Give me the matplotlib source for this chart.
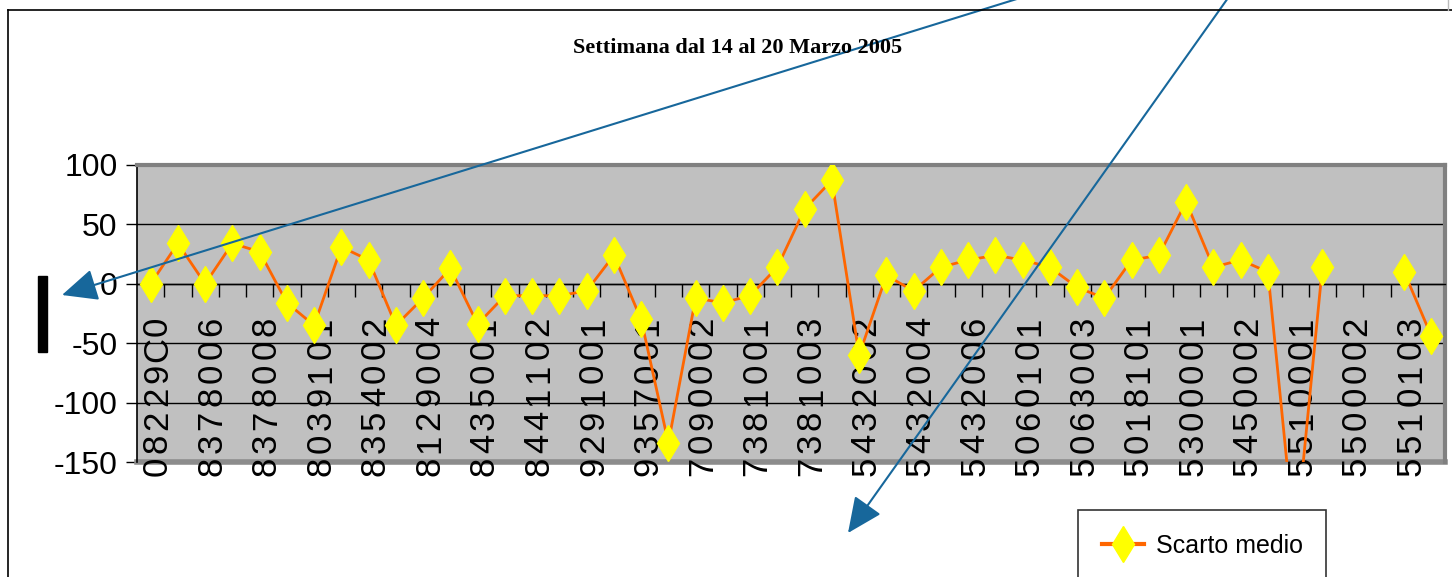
import numpy as np
import matplotlib
matplotlib.use("Agg")
import matplotlib.pyplot as plt
from matplotlib import font_manager
from matplotlib.lines import Line2D
from matplotlib.patches import Rectangle


def pick_font(*names):
    for n in names:
        try:
            font_manager.findfont(n, fallback_to_default=False)
            return n
        except ValueError:
            pass
    return "DejaVu Sans"


narrow = pick_font("Liberation Sans Narrow", "Liberation Sans", "DejaVu Sans")

# data
codes = ["08229C0", "8378006", "8378008", "8039101", "8354002", "8129004",
         "8435001", "8441102", "9291001", "9357001", "7090002", "7381001",
         "7381003", "5432002", "5432004", "5432006", "5060101", "5063003",
         "5018101", "5300001", "5450002", "5510001", "5500002", "5510103"]
scarto = [0, 34, 0, 34, 27, -16, -35, 31, 20, -35,
          -12, 13, -34, -10, -10, -10, -6, 24, -30, -134,
          -12, -16, -10, 14, 63, 87, -60, 7, -6, 14,
          20, 24, 20, 14, -3, -12, 20, 24, 69, 14,
          20, 10, -220, 14, np.nan, np.nan, 10, -44]
yticks = [100, 50, 0, -50, -100, -150]
title = "Settimana dal 14 al 20 Marzo 2005"
serie = "Scarto medio"

W, H = 1452, 577
fig = plt.figure(figsize=(W / 100, H / 100), dpi=100)
ax = fig.add_axes([137 / W, 1 - 462 / H, (1445 - 137) / W, (462 - 165) / H])
ax.set_facecolor("#C0C0C0")

x = np.arange(len(scarto))
ax.plot(x, scarto, color="#FF6600", lw=2, zorder=3,
        marker="d", markersize=18, markerfacecolor="#FFFF00",
        markeredgecolor="#FFFF00")

ax.set_xlim(-0.5, len(scarto) - 0.5)
ax.set_ylim(-150, 100)

# y axis
ax.set_yticks(yticks)
ax.set_yticklabels([str(v) for v in yticks], family=narrow, fontsize=23)
ax.tick_params(axis="y", direction="out", length=8, width=1, pad=6)
ax.yaxis.grid(True, color="black", lw=1)
ax.set_axisbelow(True)

# category axis crosses at 0, ticks between categories
ax.spines["bottom"].set_position(("data", 0))
ax.spines["bottom"].set_linewidth(1)
ax.set_xticks(x + 0.5)
ax.set_xticklabels([])
ax.tick_params(axis="x", direction="out", length=9, width=1)
ax.spines["left"].set_linewidth(1.2)
for s in ("top", "right"):
    ax.spines[s].set_color("#808080")
    ax.spines[s].set_linewidth(3)
ax.axhline(-150, color="#8C8C8C", lw=4, clip_on=False, zorder=2)

# vertical category labels, one character at a time, every second category
for k, code in enumerate(codes):
    for j, ch in enumerate(code):
        ax.text(2 * k + 0.25, -154 + j * 19.7, ch, rotation=90,
                ha="center", va="center", family=narrow, fontsize=25,
                clip_on=False, zorder=2)

fig.text(0.508, 1 - 48 / H, title, family="Liberation Serif",
         weight="bold", fontsize=16, ha="center", va="center")

handle = Line2D([], [], color="#FF6600", lw=3, marker="d", markersize=18,
                markerfacecolor="#FFFF00", markeredgecolor="#FFFF00")
leg = ax.legend([handle], [serie], loc="upper left",
                bbox_to_anchor=(1078 / W, 1 - 510 / H),
                bbox_transform=fig.transFigure, frameon=True, fancybox=False,
                prop={"family": narrow, "size": 18}, borderpad=0.95,
                handlelength=1.7, handletextpad=0.45, borderaxespad=0)
leg.get_frame().set_edgecolor("black")
leg.get_frame().set_linewidth(1.2)

# chart frame and other bits of the page
fig.add_artist(Line2D([8 / W, 8 / W], [0, 1 - 10 / H],
                      transform=fig.transFigure, color="black", lw=1.2))
fig.add_artist(Line2D([8 / W, 1], [1 - 10 / H, 1 - 10 / H],
                      transform=fig.transFigure, color="black", lw=1.2))
fig.add_artist(Line2D([1448 / W, 1448 / W], [1 - 10 / H, 1],
                      transform=fig.transFigure, color="#BBBBBB", lw=1))
fig.add_artist(Rectangle((38 / W, 1 - 352 / H), 9 / W, 76 / H,
                         transform=fig.transFigure, color="black"))

arrow = dict(arrowstyle="-|>,head_length=1.1,head_width=0.5",
             mutation_scale=20, color="#17679B", lw=1.5,
             shrinkA=0, shrinkB=0)
ax.annotate("", xy=(62, H - 295), xycoords="figure pixels",
            xytext=(1020, H + 2), textcoords="figure pixels",
            arrowprops=arrow, annotation_clip=False)
ax.annotate("", xy=(848, H - 533), xycoords="figure pixels",
            xytext=(1228, H + 2), textcoords="figure pixels",
            arrowprops=arrow, annotation_clip=False)

fig.savefig("out.png", dpi=100)
